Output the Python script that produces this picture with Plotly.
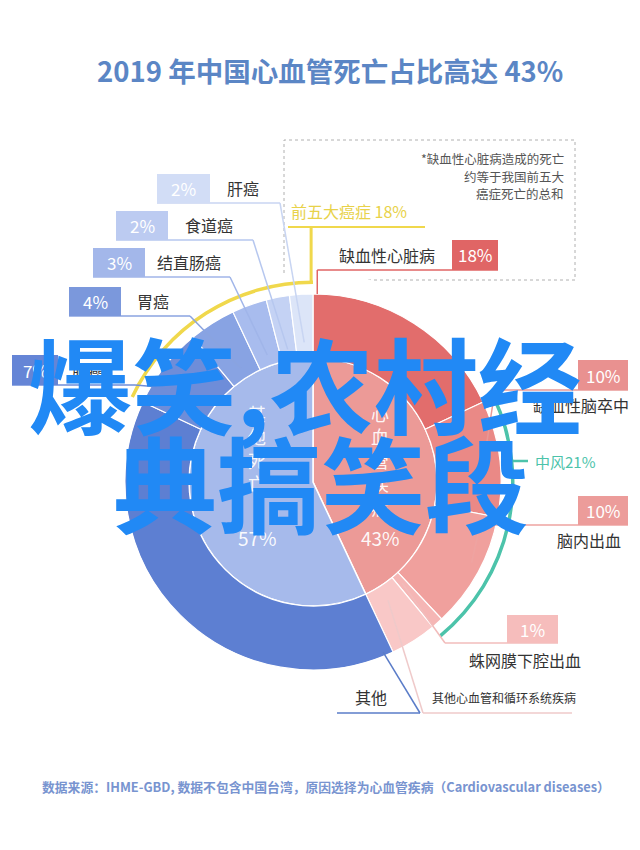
import math
import plotly.graph_objects as go

W, H = 640, 850
OFF = 8                    # page body margin in the browser
CX, CY = 313, 482          # pie centre in px
R_IN, R_OUT = 124, 188     # inner pie radius / outer ring radius
R_ARC, ARC_W = 198, 3.5    # yellow / teal arcs

# ---- data -------------------------------------------------------------
inner_labels = ["心血管疾病", "其他死亡"]
inner_values = [43, 57]
inner_colors = ["#ec9a97", "#a6baeb"]

outer_labels = ["缺血性心脏病", "缺血性脑卒中", "脑内出血", "蛛网膜下腔出血",
                "其他心血管和循环系统疾病", "其他", "肺癌", "胃癌", "结直肠癌",
                "食道癌", "肝癌"]
outer_values = [18, 10, 10, 1, 4, 39, 7, 4, 3, 2, 2]
outer_colors = ["#e26d6c", "#ea8986", "#f0a09d", "#f5b6b5", "#f9c8c7",
                "#5d7fd2", "#6e8dd9", "#88a3e3", "#a8bcee", "#c4d2f4", "#dce5f8"]
outer_text = ["18%", "10%", "10%", "1%", "", "", "7%", "4%", "3%", "2%", "2%"]

group_labels = ["前五大癌症 18%", "中风21%"]
group_start = [82, 18]      # % position (clockwise from top)
group_values = [18, 21]
group_colors = ["#f0d84c", "#4cc3aa"]

title = "2019 年中国心血管死亡占比高达 43%"
note_lines = ["*缺血性心脏病造成的死亡", "约等于我国前五大", "癌症死亡的总和"]
source = "数据来源：IHME-GBD, 数据不包含中国台湾，原因选择为心血管疾病（Cardiovascular diseases）"
overlay = ["爆笑,农村经", "典搞笑段"]


def X(px):
    return (px - OFF) / W


def Y(py):
    return 1 - (py - OFF) / H


def cum_mid(values):
    out, acc = [], 0
    for v in values:
        out.append((acc + v / 2) * 3.6)
        acc += v
    return out


def polar_pt(pct, r):
    a = math.radians(pct * 3.6)
    return CX + r * math.sin(a), CY - r * math.cos(a)


fig = go.Figure()
fig.add_trace(go.Barpolar(theta=cum_mid(inner_values), r=[R_IN] * 2, base=0,
                          width=[v * 3.6 for v in inner_values],
                          marker=dict(color=inner_colors, line=dict(color="white", width=1.5)),
                          hoverinfo="skip"))
fig.add_trace(go.Barpolar(theta=cum_mid(outer_values), r=[R_OUT - R_IN] * len(outer_values),
                          base=R_IN, width=[v * 3.6 for v in outer_values],
                          marker=dict(color=outer_colors, line=dict(color="white", width=1.2)),
                          hoverinfo="skip"))
fig.add_trace(go.Barpolar(theta=[(s + v / 2) * 3.6 for s, v in zip(group_start, group_values)],
                          r=[ARC_W] * 2, base=R_ARC, width=[v * 3.6 for v in group_values],
                          marker=dict(color=group_colors, line=dict(width=0)),
                          hoverinfo="skip"))

shapes, annos = [], []
FONT = "Noto Sans CJK SC"


def line(pts, color, width=1.5):
    for (x0, y0), (x1, y1) in zip(pts[:-1], pts[1:]):
        shapes.append(dict(type="line", xref="paper", yref="paper",
                           x0=X(x0), y0=Y(y0), x1=X(x1), y1=Y(y1),
                           line=dict(color=color, width=width)))


def text(x, y, s, size, color, xa="center", ya="middle", weight=None):
    f = dict(size=size, color=color, family=FONT)
    if weight:
        f["weight"] = weight
    annos.append(dict(x=X(x), y=Y(y), text=s, showarrow=False, xanchor=xa, yanchor=ya,
                      xref="paper", yref="paper", font=f))


def box(x0, x1, y0, y1, color, s):
    shapes.append(dict(type="rect", xref="paper", yref="paper", x0=X(x0), x1=X(x1),
                       y0=Y(y1), y1=Y(y0), fillcolor=color, line=dict(width=0)))
    text((x0 + x1) / 2, (y0 + y1) / 2, s, 17, "white")


# cumulative start % of each outer slice
starts = []
acc = 0
for v in outer_values:
    starts.append(acc)
    acc += v

# label layout: box (x0,x1,y0,y1), name pos, underline (y, x_far, x_near), anchor (t, r)
lay = {
    "肝癌": dict(box=(157, 210, 174, 203), name=(225, 188, "left"), ul=(203, 157, 280), anc=(0.5, 140), lc="#c8d5f2"),
    "食道癌": dict(box=(116, 168, 211, 240), name=(183, 225, "left"), ul=(240, 116, 253), anc=(0.5, 135), lc="#b6c7ef"),
    "结直肠癌": dict(box=(93, 145, 248, 277), name=(155, 262, "left"), ul=(277, 93, 230), anc=(0.5, 135), lc="#a0b5e9"),
    "胃癌": dict(box=(69, 121, 287, 316), name=(135, 301, "left"), ul=(316, 69, 190), anc=(0.5, 135), lc="#8aa3e0"),
    "肺癌": dict(box=(12, 58, 355, 385), name=(70, 370, "left"), ul=(385, 12, 135), anc=(0.5, 150), lc="#6e8dd9"),
    "缺血性心脏病": dict(box=(452, 498, 240, 270), name=(437, 255, "right"), ul=(270, 498, None), anc=(0.02, R_OUT), lc="#e06565"),
    "缺血性脑卒中": dict(box=(578, 628, 360, 390), name=(631, 405, "right"), ul=(390, 628, 495), anc=(0.35, 178), lc="#e99896"),
    "脑内出血": dict(box=(578, 628, 496, 525), name=(623, 540, "right"), ul=(525, 628, 480), anc=(0.45, 178), lc="#eea3a1"),
    "蛛网膜下腔出血": dict(box=(507, 558, 615, 643), name=(583, 660, "right"), ul=(643, 558, 445), anc=(0.5, 135), lc="#f2bcbb"),
}
box_colors = {"肝癌": "#d2ddf6", "食道癌": "#bccbf1", "结直肠癌": "#a3b7ea", "胃癌": "#7b98dc",
              "肺癌": "#6585d6", "缺血性心脏病": "#e06565", "缺血性脑卒中": "#e99190",
              "脑内出血": "#ec9c9a", "蛛网膜下腔出血": "#f6bdbc"}

for i, name in enumerate(outer_labels):
    if name not in lay:
        continue
    d = lay[name]
    t, r = d["anc"]
    ax, ay = polar_pt(starts[i] + t * outer_values[i], r)
    uy, xfar, xnear = d["ul"]
    if xnear is None:
        line([(xfar, uy), (ax, uy), (ax, ay)], d["lc"])
    else:
        line([(xfar, uy), (xnear, uy), (ax, ay)], d["lc"])
    box(*d["box"], box_colors[name], outer_text[i])
    nx, ny, na = d["name"]
    text(nx, ny, name, 16, "#333333", xa=na)

# bottom labels: 其他 and 其他心血管
i = outer_labels.index("其他")
ax, ay = polar_pt(starts[i] + 0.02 * outer_values[i], 184)
line([(337, 713), (420, 713), (ax, ay)], "#5a7cc8")
text(371, 697, "其他", 16, "#333333")
i = outer_labels.index("其他心血管和循环系统疾病")
ax, ay = polar_pt(starts[i] + 0.5 * outer_values[i], 140)
line([(572, 713), (423, 713), (ax, ay)], "#efcaca")
text(430, 697, outer_labels[i], 12, "#333333", xa="left")

# group arcs labels
gx, gy = polar_pt(group_start[0] + group_values[0] - 0.15, R_ARC + ARC_W / 2)
line([(288, 227), (425, 227)], group_colors[0], 2)
line([(gx, 227), (gx, gy)], group_colors[0], 3)
text(289, 211, group_labels[0], 16, "#e8d24a", xa="left")
text(533, 461, group_labels[1], 15, group_colors[1], xa="left")
line([(CX + math.sqrt((R_ARC + 1.5) ** 2 - (CY - 461) ** 2), 461), (528, 461)], group_colors[1], 2.5)

# dotted note box
shapes.append(dict(type="rect", xref="paper", yref="paper", x0=X(284), x1=X(575), y0=Y(280), y1=Y(140),
                   line=dict(color="#b0b0b0", width=1, dash="dot"), layer="below"))
for k, s in enumerate(note_lines):
    text(566, 158 + k * 18, s, 12.5, "#555555", xa="right")

# inner labels (vertical)
for txt, val, x in [(inner_labels[1], inner_values[1], 257), (inner_labels[0], inner_values[0], 380)]:
    text(x, 398, "<br>".join(txt), 18, "rgba(255,255,255,0.92)", ya="top")
    text(x, 537, f"{val}%", 19, "rgba(255,255,255,0.95)")

# title and source
text(330, 70, f"<b>{title}</b>", 27.5, "#5b86c5")
text(326, 786, source, 12.8, "#7894d0", weight=700)

# big overlay text on top
text(305, 381, overlay[0], 104, "#2189f5", weight=700)
text(321, 480, overlay[1], 104, "#2189f5", weight=700)

R_AX = 210
fig.update_layout(
    width=W, height=H, margin=dict(l=0, r=0, t=0, b=0),
    paper_bgcolor="white", showlegend=False,
    polar=dict(
        domain=dict(x=[X(CX - R_AX), X(CX + R_AX)], y=[Y(CY + R_AX), Y(CY - R_AX)]),
        bgcolor="white",
        radialaxis=dict(visible=False, range=[0, R_AX]),
        angularaxis=dict(visible=False, rotation=90, direction="clockwise"),
    ),
    shapes=shapes, annotations=annos,
)

fig.write_html("out.html")
